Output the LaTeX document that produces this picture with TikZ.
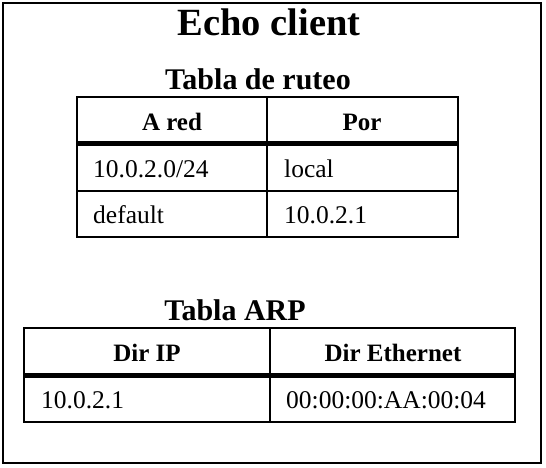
\documentclass[tikz,border=0pt]{standalone}
\usepackage{fontspec}
\setmainfont{Liberation Serif}
\def\marco{(3,3) rectangle (541,463)}
\def\ruteobox{(77,97) rectangle (458,237)}
\def\arpbox{(24,328) rectangle (515,422)}
\tikzset{
  titulo/.style={font=\bfseries\fontsize{38.5}{44}\selectfont, inner sep=0pt, anchor=base},
  subtitulo/.style={font=\bfseries\fontsize{30}{34}\selectfont, inner sep=0pt, anchor=base},
  cabecera/.style={font=\bfseries\fontsize{25}{30}\selectfont, inner sep=0pt, anchor=base},
  celda/.style={font=\fontsize{25.5}{30}\selectfont, inner sep=0pt, anchor=base west},
  linea/.style={line width=2pt},
  gruesa/.style={line width=5pt}
}
\begin{document}
\begin{tikzpicture}[x=1pt,y=-1pt]
	\useasboundingbox (0,0) rectangle (546,468);
	
	\draw [linea] \marco;
	\node [titulo] (echo) at (269,36) {Echo client};
	
	%tabla de ruteo
	\node [subtitulo] (ruteo) at (258,90) {Tabla de ruteo};
	\draw [linea] \ruteobox;
	\draw [linea] (267,97) -- (267,237);
	\draw [gruesa] (77,144) -- (458,144);
	\draw [linea] (77,191) -- (458,191);
	\node [cabecera] (ared) at (172,131) {A red};
	\node [cabecera] (por) at (362,131) {Por};
	\node [celda] (red1) at (93,177) {10.0.2.0/24};
	\node [celda] (por1) at (284,177) {local};
	\node [celda] (red2) at (93,223) {default};
	\node [celda] (por2) at (284,223) {10.0.2.1};
	
	%tabla ARP
	\node [subtitulo] (arp) at (235,320) {Tabla ARP};
	\draw [linea] \arpbox;
	\draw [linea] (270,328) -- (270,422);
	\draw [gruesa] (24,375.5) -- (515,375.5);
	\node [cabecera] (dirip) at (147,361) {Dir IP};
	\node [cabecera] (direth) at (393,361) {Dir Ethernet};
	\node [celda] (ip1) at (41,408) {10.0.2.1};
	\node [celda] (eth1) at (286,408) {00:00:00:AA:00:04};
\end{tikzpicture}
\end{document}
